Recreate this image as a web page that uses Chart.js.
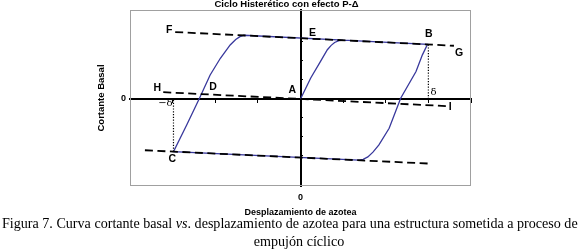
<!DOCTYPE html>
<html><head><meta charset="utf-8">
<script src="https://cdn.jsdelivr.net/npm/chart.js@4.4.0/dist/chart.umd.min.js"></script>
<style>
html,body{margin:0;padding:0;background:#fff;}
#wrap{position:relative;width:580px;height:251px;overflow:hidden;background:#fff;}
#c{position:absolute;left:0;top:0;}
.cap{position:absolute;font-family:"Liberation Serif","Times New Roman",serif;font-size:14.1px;line-height:18px;white-space:nowrap;color:#000;}
#cap1{left:2px;top:214px;}
#cap2{left:0;width:598px;top:232px;text-align:center;}
</style></head><body>
<div id="wrap"><canvas id="c" width="580" height="251"></canvas>
<div class="cap" id="cap1">Figura 7. Curva cortante basal <i>vs</i>. desplazamiento de azotea para una estructura sometida a proceso de</div>
<div class="cap" id="cap2">empujón cíclico</div></div>
<script>
// ---- text ----
const chartTitle = 'Ciclo Histerético con efecto P-\u0394';
const xAxisTitle = 'Desplazamiento de azotea';
const yAxisTitle = 'Cortante Basal';
const xTickLabels = ['0'];
const yTickLabels = ['0'];

// ---- axis ranges ----
const xRange = [-4, 4];
const yRange = [-4.58, 4.68];

// ---- P-Delta dashed lines ----
const upperLineX = [-2.94, 3.6];
const upperLineY = [3.52, 2.80];
const middleLineX = [-3.22, 3.41];
const middleLineY = [0.354, -0.375];
const lowerLineX = [-3.65, 3.01];
const lowerLineY = [-2.70, -3.40];

// ---- hysteretic cycle (blue) ----
const cycleX = [0, 0.24, 0.47, 0.63, 0.72, 0.80, 0.90, 1.0, 2.98,
                2.86, 2.71, 2.35, 2.08, 1.84, 1.70, 1.58, 1.47, 1.37, -2.98,
                -2.67, -2.37, -2.12, -1.88, -1.65, -1.52, -1.42, -1.33, 1.0];
const cycleY = [0, 1.10, 1.98, 2.59, 2.82, 2.97, 3.07, 3.09, 2.87,
                2.32, 1.44, 0.04, -1.54, -2.42, -2.80, -3.05, -3.18, -3.22, -2.77,
                -1.37, 0.04, 1.26, 2.14, 2.84, 3.13, 3.28, 3.35, 3.09];

// ---- delta (dotted) lines ----
const deltaPosX = [3.0, 3.0];
const deltaPosY = [2.86, -0.1];
const deltaNegX = [-2.98, -2.98];
const deltaNegY = [-2.77, 0];

// ---- point labels ----
const labelText = ['F', 'E', 'B', 'G', 'H', 'D', 'A', 'I', 'C', '\u03b4', '\u2212\u03b4'];
const labelX = [-3.08, 0.28, 3.01, 3.72, -3.36, -2.05, -0.19, 3.51, -3.01, 3.12, -3.17];
const labelY = [3.63, 3.47, 3.42, 2.42, 0.58, 0.63, 0.47, -0.42, -3.16, 0.32, -0.26];

const pts = (xs, ys) => xs.map((v, i) => ({x: v, y: ys[i]}));
const FONT = "'Liberation Sans', Arial, sans-serif";

function dashed(xs, ys) {
  return {data: pts(xs, ys), borderColor: '#000', borderWidth: 1.8, borderDash: [8, 4.5],
          pointRadius: 0, showLine: true, fill: false, xAxisID: 'x', yAxisID: 'y'};
}
function dotted(xs, ys) {
  return {data: pts(xs, ys), borderColor: '#000', borderWidth: 1.2, borderDash: [1.2, 1.6],
          pointRadius: 0, showLine: true, fill: false, xAxisID: 'x', yAxisID: 'y'};
}

const frame = {
  id: 'frame',
  beforeDatasetsDraw(chart) {
    const a = chart.chartArea, ctx = chart.ctx;
    ctx.save();
    ctx.strokeStyle = '#a0a0a0';
    ctx.lineWidth = 1;
    ctx.strokeRect(a.left + 0.5, a.top + 0.5, a.right - a.left - 1, a.bottom - a.top - 1);
    ctx.restore();
  }
};

const letters = {
  id: 'letters',
  afterDatasetsDraw(chart) {
    const ctx = chart.ctx, sx = chart.scales.x, sy = chart.scales.y;
    ctx.save();
    ctx.fillStyle = '#000';
    ctx.textAlign = 'center';
    ctx.textBaseline = 'middle';
    labelText.forEach((t, i) => {
      const greek = t.indexOf('\u03b4') >= 0;
      ctx.font = greek ? "10px 'DejaVu Serif', serif" : "bold 10.5px " + FONT;
      ctx.fillText(t, sx.getPixelForValue(labelX[i]), sy.getPixelForValue(labelY[i]));
    });
    ctx.restore();
  }
};

const intTicks = s => { s.ticks = s.ticks.filter(t => Math.abs(t.value - Math.round(t.value)) < 1e-9); };

new Chart(document.getElementById('c'), {
  type: 'scatter',
  data: {
    datasets: [
      dashed(upperLineX, upperLineY),
      dashed(middleLineX, middleLineY),
      dashed(lowerLineX, lowerLineY),
      dotted(deltaPosX, deltaPosY),
      dotted(deltaNegX, deltaNegY),
      {data: pts(cycleX, cycleY), borderColor: '#38389c', borderWidth: 1.3, pointRadius: 0,
       showLine: true, fill: false, tension: 0, xAxisID: 'x', yAxisID: 'y'}
    ]
  },
  options: {
    responsive: false,
    animation: false,
    devicePixelRatio: 1,
    layout: {padding: {left: 102, right: 109, top: 0, bottom: 0}},
    plugins: {
      legend: {display: false},
      tooltip: {enabled: false},
      title: {display: true, text: chartTitle, color: '#000',
              font: {family: FONT, size: 9.5, weight: 'bold', lineHeight: 1},
              padding: {top: 0, bottom: 0.5}}
    },
    scales: {
      x: {type: 'linear', axis: 'x', position: 'bottom', min: xRange[0], max: xRange[1],
          afterBuildTicks: s => { s.ticks = xTickLabels.map(v => ({value: Number(v)})); },
          ticks: {color: '#000', font: {family: FONT, size: 9, weight: 'bold'}, padding: 6,
                  autoSkip: false, maxRotation: 0, callback: v => String(v)},
          grid: {display: false, drawTicks: false},
          border: {display: false},
          title: {display: true, text: xAxisTitle, color: '#000',
                  font: {family: FONT, size: 9, weight: 'bold'}, padding: {top: 0, bottom: 32.6}},
          afterFit: s => { s.height = 65; }},
      y: {type: 'linear', axis: 'y', position: 'left', min: yRange[0], max: yRange[1],
          afterBuildTicks: s => { s.ticks = yTickLabels.map(v => ({value: Number(v)})); },
          ticks: {color: '#000', font: {family: FONT, size: 9, weight: 'bold'}, padding: 4,
                  autoSkip: false, callback: v => String(v)},
          grid: {display: false, drawTicks: false},
          border: {display: false},
          title: {display: true, text: yAxisTitle, color: '#000',
                  font: {family: FONT, size: 9.5, weight: 'bold'}, padding: {top: -6.5, bottom: 0}},
          afterFit: s => { s.width = 28; }},
      xc: {type: 'linear', axis: 'x', position: {y: 0}, min: xRange[0], max: xRange[1],
           ticks: {display: false, stepSize: 1}, afterBuildTicks: intTicks,
           grid: {display: true, drawOnChartArea: false, drawTicks: true, tickLength: 3, color: '#000', lineWidth: 1},
           border: {display: true, color: '#000', width: 2}},
      yc: {type: 'linear', axis: 'y', position: {x: 0}, min: yRange[0], max: yRange[1],
           ticks: {display: false, stepSize: 1}, afterBuildTicks: intTicks,
           grid: {display: true, drawOnChartArea: false, drawTicks: true, tickLength: -3, color: '#000', lineWidth: 1},
           border: {display: true, color: '#000', width: 2}}
    }
  },
  plugins: [frame, letters]
});
</script>
</body></html>
